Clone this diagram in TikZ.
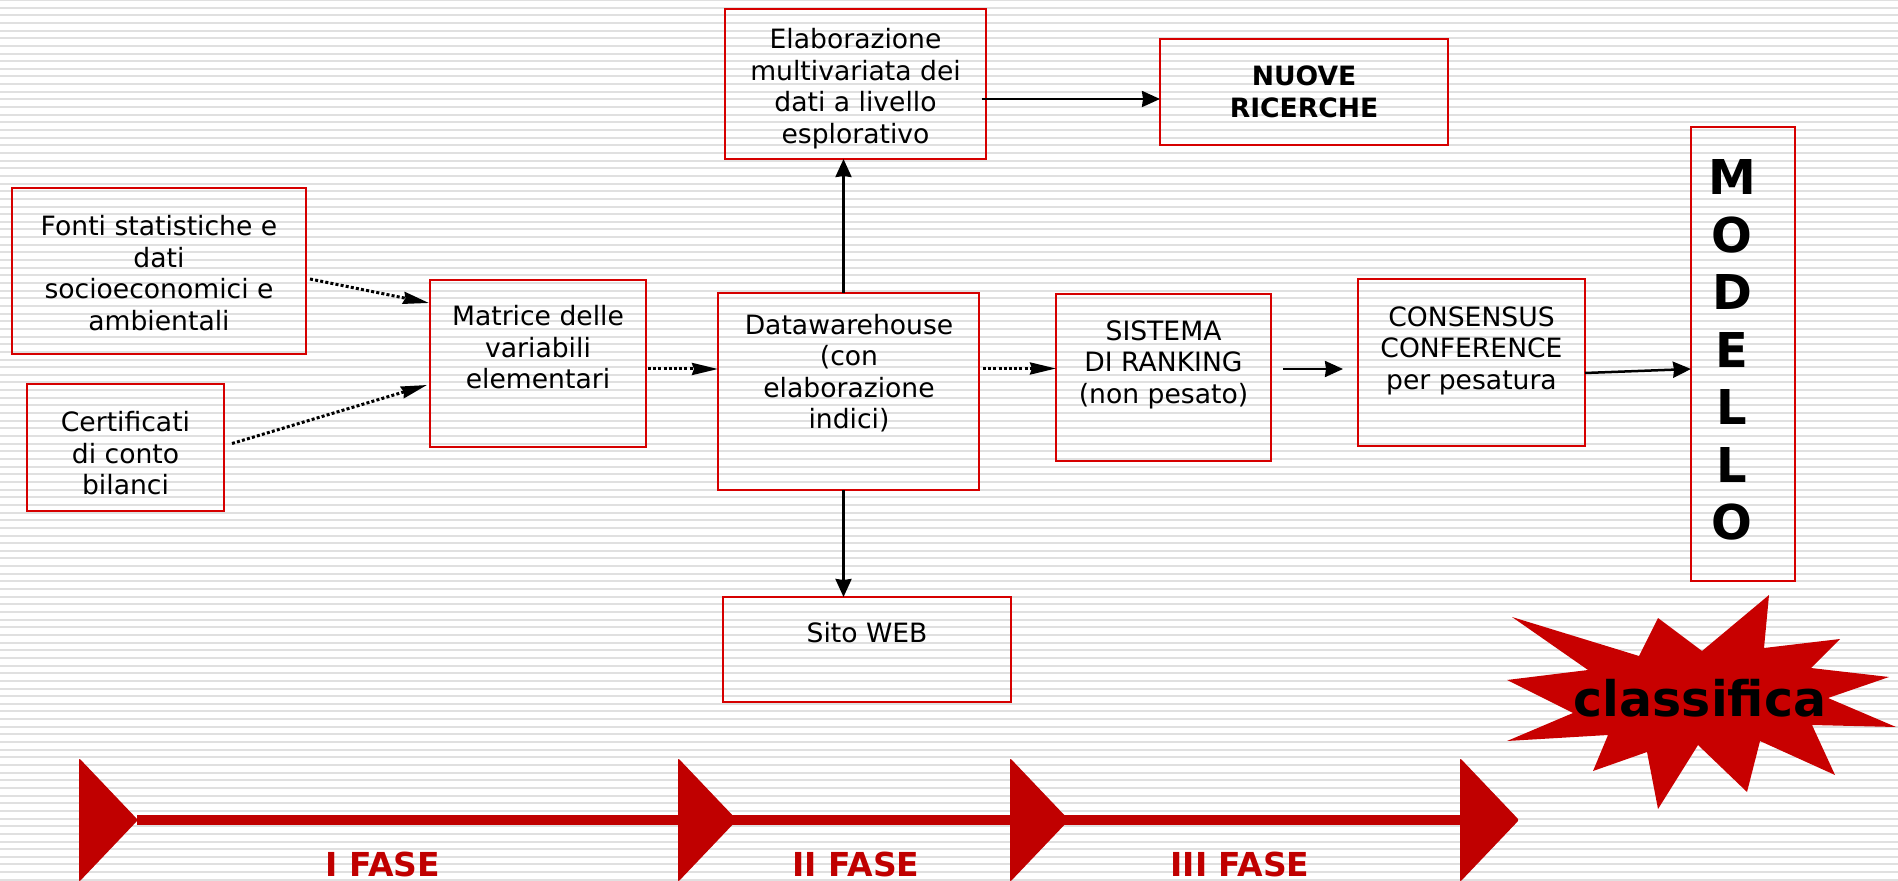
\documentclass[tikz,border=0pt]{standalone}
\usepackage{fontspec}
\setmainfont{DejaVu Sans}
\usepackage{tikz}
\usetikzlibrary{arrows.meta}
\usetikzlibrary{calc}
\definecolor{boxred}{RGB}{214,0,0}
\definecolor{starred}{RGB}{200,0,0}
\definecolor{timered}{RGB}{192,0,0}
\definecolor{stripegray}{RGB}{224,224,224}
\tikzset{
  redbox/.style={draw=boxred, line width=1pt, inner sep=0pt, outer sep=0pt},
  boxtext/.style={align=center, inner sep=0pt, font=\fontsize{13.3}{15.75}\selectfont},
  dotarrow/.style={line width=1.5pt, dash pattern=on 1.5pt off 1.1pt,
    -{Stealth[length=13pt,width=6pt,inset=1pt]}},
  solidarrow/.style={line width=1.25pt, -{Stealth[length=9pt,width=8pt,inset=0.5pt]}},
  fasetext/.style={anchor=base, text=timered, font=\fontsize{16.5}{19}\selectfont\bfseries}
}

\begin{document}
\begin{tikzpicture}[x=0.5pt,y=-0.5pt]
  \useasboundingbox (0,0) rectangle (1898,881);
  \fill[white] (0,0) rectangle (1898,881); % background
  \foreach \i in {0,...,115}
    \draw[stripegray, line width=1pt] (0,\i*7.65) -- (1898,\i*7.65);

  %draw boxes
  \node[redbox, minimum width=147pt, minimum height=83pt] (fonti) at (159,271) {};
  \node[redbox, minimum width=98.5pt, minimum height=63.5pt] (certificati) at (125.5,447.5) {};
  \node[redbox, minimum width=108pt, minimum height=83.5pt] (matrice) at (538,363.5) {};
  \node[redbox, minimum width=130.5pt, minimum height=98.5pt] (dw) at (848.5,391.5) {};
  \node[redbox, minimum width=130.5pt, minimum height=75pt] (elab) at (855.5,84) {};
  \node[redbox, minimum width=144pt, minimum height=53pt] (nuove) at (1304,92) {};
  \node[redbox, minimum width=144pt, minimum height=52.5pt] (sito) at (867,649.5) {};
  \node[redbox, minimum width=107.5pt, minimum height=83.5pt] (sistema) at (1163.5,377.5) {};
  \node[redbox, minimum width=113.5pt, minimum height=83.5pt] (consensus) at (1471.5,362.5) {};
  \node[redbox, minimum width=52pt, minimum height=227pt] (modello) at (1743,354) {};

  %draw labels
  \node[boxtext] (fontitxt) at (159,273) {Fonti statistiche e\\dati\\socioeconomici e\\ambientali};
  \node[boxtext] (certificatitxt) at (125.5,453.5) {Certificati\\di conto\\bilanci};
  \node[boxtext] (matricetxt) at (538,347.5) {Matrice delle\\variabili\\elementari};
  \node[boxtext] (dwtxt) at (849,373) {Datawarehouse\\(con\\elaborazione\\indici)};
  \node[boxtext] (elabtxt) at (855.5,88.5) {Elaborazione\\multivariata dei\\dati a livello\\esplorativo};
  \node[boxtext, font=\fontsize{13.3}{15.75}\selectfont\bfseries] (nuovetxt) at (1304,92) {NUOVE\\RICERCHE};
  \node[boxtext] (sitotxt) at (867,632.5) {Sito WEB};
  \node[boxtext] (sistematxt) at (1163.5,364.5) {SISTEMA\\DI RANKING\\(non pesato)};
  \node[boxtext] (consensustxt) at (1471.5,350.5) {CONSENSUS\\CONFERENCE\\per pesatura};
  \node[boxtext, font=\fontsize{24}{28.75}\selectfont\bfseries] (modellotxt) at (1732,350)
    {M\\O\\D\\E\\L\\L\\O};

  %draw connectors
  \draw[dotarrow] ([shift={(4,8)}]fonti.east) -- ([shift={(-1,23)}]matrice.north west);
  \draw[dotarrow] ([shift={(8,-4)}]certificati.east) -- ([shift={(-3,21.5)}]matrice.west);
  \coordinate (m1) at ([shift={(2,5.5)}]matrice.east);
  \draw[dotarrow] (m1) -- (m1 -| dw.west);
  \coordinate (d3) at ([shift={(4,-23)}]dw.east);
  \draw[dotarrow] (d3) -- (d3 -| sistema.west);
  \coordinate (s1) at ([shift={(12,-8.5)}]sistema.east);
  \coordinate (s2) at ($(s1 -| consensus.west)+(-15,0)$);
  \draw[solidarrow] (s1) -- (s2);
  \draw[solidarrow] ([shift={(0,10.5)}]consensus.east) -- ([shift={(0,15)}]modello.west);
  \coordinate (d1) at ([shift={(-5,0)}]dw.north);
  \draw[solidarrow] (d1) -- (d1 |- elab.south);
  \coordinate (d2) at ([shift={(-5,0)}]dw.south);
  \draw[solidarrow] (d2) -- (d2 |- sito.north);
  \coordinate (e1) at ([shift={(-4.5,15)}]elab.east);
  \draw[solidarrow] (e1) -- (e1 -| nuove.west);

  %draw star
  \fill[starred] (1512,617) -- (1639,656) -- (1658,618) -- (1702,651) -- (1769,595)
    -- (1764,648) -- (1840,639) -- (1811,668) -- (1889,677) -- (1828,698)
    -- (1896,727) -- (1812,725) -- (1835,775) -- (1760,741) -- (1747,792)
    -- (1698,745) -- (1658,809) -- (1647,752) -- (1593,771) -- (1608,735)
    -- (1507,741) -- (1573,713) -- (1507,680) -- (1588,670) -- cycle;
  \node[anchor=base, inner sep=0pt, font=\fontsize{24.5}{29}\selectfont\bfseries] (classifica)
    at (1700,716) {classifica};

  %draw phases
  \draw[timered, line width=5pt] (137,820) -- (1460,820);
  \foreach \x in {79,678,1010,1460}
    \fill[timered, rounded corners=1pt] (\x,758) -- (\x+59,820) -- (\x,882) -- cycle;
  \node[fasetext] (fase1) at (383,876) {I FASE};
  \node[fasetext] (fase2) at (856,876) {II FASE};
  \node[fasetext] (fase3) at (1240,876) {III FASE};
\end{tikzpicture}
\end{document}
